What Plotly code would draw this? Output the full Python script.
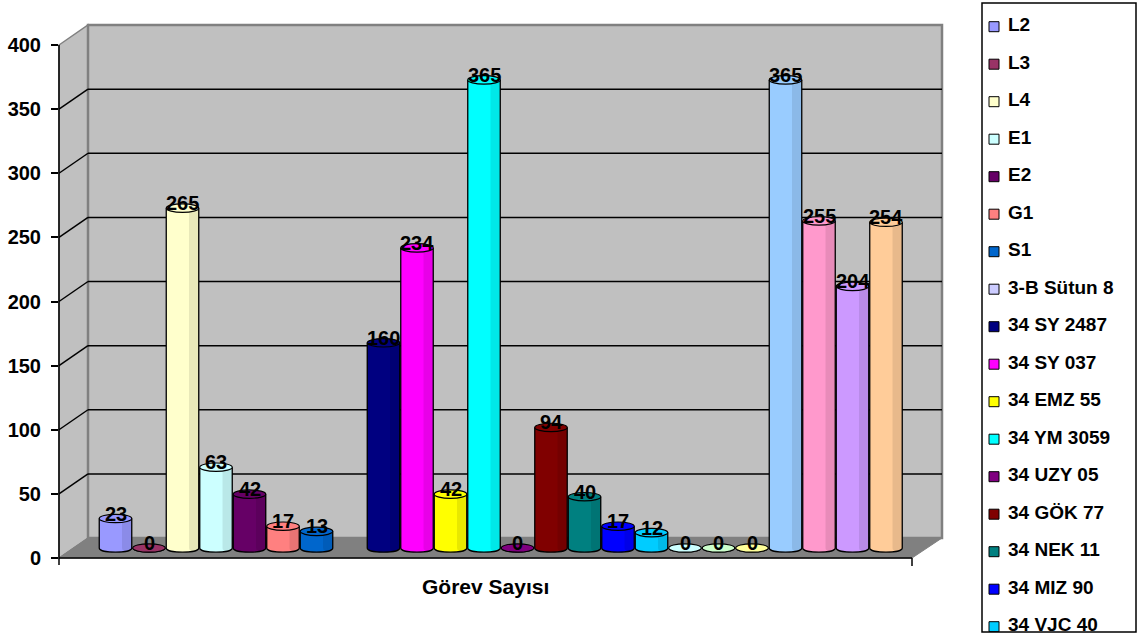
import plotly.graph_objects as go

# ---- data -------------------------------------------------------------
category = "Görev Sayısı"
series_names = [
    "L2", "L3", "L4", "E1", "E2", "G1", "S1", "3-B Sütun 8",
    "34 SY 2487", "34 SY 037", "34 EMZ 55", "34 YM 3059", "34 UZY 05",
    "34 GÖK 77", "34 NEK 11", "34 MIZ 90", "34 VJC 40",
]
values = [23, 0, 265, 63, 42, 17, 13, None, 160, 234, 42, 365, 0,
          94, 40, 17, 12, 0, 0, 0, 365, 255, 204, 254]
colors = [
    "#9999FF", "#993366", "#FFFFCC", "#CCFFFF", "#660066", "#FF8080",
    "#0066CC", "#CCCCFF", "#000080", "#FF00FF", "#FFFF00", "#00FFFF",
    "#800080", "#800000", "#008080", "#0000FF", "#00CCFF", "#CCFFFF",
    "#CCFFCC", "#FFFF99", "#99CCFF", "#FF99CC", "#CC99FF", "#FFCC99",
]
y_ticks = [0, 50, 100, 150, 200, 250, 300, 350, 400]

# ---- geometry (pixels) -----------------------------------------------
FIG_W, FIG_H = 1138, 634
PL, PR, PT, PB = 59, 942, 20, 570          # chart plotting area
FRONT_X, BACK_X = 59, 88                    # left edge of front / back planes
FRONT_ZERO, DEPTH_DY = 558, -20             # value 0 on front plane, depth shift
FLOOR_RIGHT_FRONT = 912
K = 513 / 400                               # pixels per unit value
MID_ZERO = FRONT_ZERO + DEPTH_DY / 2        # bars stand in the middle depth
CENTER0, PITCH = 115.5, 33.5                # bar centre spacing
BAR_W = 0.97
RY = 4.2 / K                                # half-height of cylinder ellipse

# legend panel
LEG_L, LEG_R, LEG_T, LEG_B = 982, 1136, 3, 632
LEG_Y0, LEG_STEP = 26.7, 37.5

WALL = "#C0C0C0"
FLOOR = "#808080"
EDGE = "#808080"
FONT = "Liberation Sans, Arial, sans-serif"


def ppx(x):
    return x / FIG_W


def ppy(y):
    return (FIG_H - y) / FIG_H


def front_y(v):
    return FRONT_ZERO - v * K


def back_y(v):
    return FRONT_ZERO + DEPTH_DY - v * K


shapes = []


def poly(points, fill, line_color, width=1, layer="below"):
    path = "M " + " L ".join(f"{ppx(x):.5f},{ppy(y):.5f}" for x, y in points) + " Z"
    return dict(type="path", xref="paper", yref="paper", path=path,
                fillcolor=fill, line=dict(color=line_color, width=width), layer=layer)


def seg(x0, y0, x1, y1, color="black", width=1.5, layer="below"):
    return dict(type="line", xref="paper", yref="paper",
                x0=ppx(x0), y0=ppy(y0), x1=ppx(x1), y1=ppy(y1),
                line=dict(color=color, width=width), layer=layer)


# side wall, back wall and floor
top = y_ticks[-1]
shapes.append(poly([(FRONT_X, front_y(top)), (BACK_X, back_y(top)),
                    (BACK_X, back_y(0)), (FRONT_X, front_y(0))], WALL, EDGE, 1.5))
shapes.append(poly([(BACK_X, back_y(top)), (PR, back_y(top)),
                    (PR, back_y(0)), (BACK_X, back_y(0))], WALL, EDGE, 2.5))
shapes.append(poly([(FRONT_X, front_y(0)), (BACK_X, back_y(0)), (PR, back_y(0)),
                    (FLOOR_RIGHT_FRONT, front_y(0))], FLOOR, EDGE, 1))

# grid lines on the walls
for v in y_ticks[1:-1]:
    shapes.append(seg(FRONT_X, front_y(v), BACK_X, back_y(v), "black", 1.5))
    shapes.append(seg(BACK_X, back_y(v), PR, back_y(v), "black", 1.5))

# front axis line, floor front edge and its end tick
shapes.append(seg(FRONT_X, front_y(top), FRONT_X, front_y(0) + 7, "black", 1.5, "above"))
shapes.append(seg(FRONT_X, front_y(0), FLOOR_RIGHT_FRONT, front_y(0), "black", 1.5, "above"))
shapes.append(seg(FLOOR_RIGHT_FRONT, front_y(0), FLOOR_RIGHT_FRONT, front_y(0) + 8,
                  "black", 1.5, "above"))

# cylinders: bottom cap, side shading, outline and top ellipse
positions = list(range(len(values)))
annotations = []
for i, v in enumerate(values):
    if v is None:
        continue
    c = colors[i]
    xl, xr = i - BAR_W / 2, i + BAR_W / 2
    d = 4 / 3 * RY
    bottom = f"M {xl},0 C {xl},{-d} {xr},{-d} {xr},0"
    shapes.append(dict(type="path", xref="x", yref="y", path=bottom + " Z",
                       fillcolor=c, line=dict(width=0), layer="above"))
    if v > 0:
        xs = xr - 0.3 * BAR_W
        shapes.append(dict(type="path", xref="x", yref="y",
                           path=f"M {xs},{v} L {xs},0 C {xs},{-d*0.9} {xr},{-d*0.5} {xr},0 L {xr},{v} Z",
                           fillcolor="rgba(0,0,0,0.09)", line=dict(width=0), layer="above"))
        shapes.append(dict(type="path", xref="x", yref="y",
                           path=f"M {xl},{v} L {xl},0 C {xl},{-d} {xr},{-d} {xr},0 L {xr},{v}",
                           line=dict(color="black", width=1.3), layer="above"))
    else:
        shapes.append(dict(type="path", xref="x", yref="y", path=bottom,
                           line=dict(color="black", width=1), layer="above"))
    shapes.append(dict(type="circle", xref="x", yref="y",
                       x0=xl, x1=xr, y0=v - RY, y1=v + RY,
                       fillcolor=c, line=dict(color="black", width=1.2), layer="above"))
    annotations.append(dict(x=i, y=v, xref="x", yref="y", text=str(v),
                            showarrow=False, yshift=5,
                            font=dict(family=FONT, size=20, color="black", weight="bold")))

# category title under the floor
annotations.append(dict(x=ppx(485), y=ppy(586), xref="paper", yref="paper",
                        xanchor="center", yanchor="middle",
                        text=category, showarrow=False,
                        font=dict(family=FONT, size=21, color="black", weight="bold")))

# legend frame
shapes.append(dict(type="rect", xref="paper", yref="paper",
                   x0=ppx(LEG_L), x1=ppx(LEG_R), y0=ppy(LEG_B), y1=ppy(LEG_T),
                   fillcolor="rgba(0,0,0,0)", line=dict(color="black", width=1.5),
                   layer="above"))

fig = go.Figure()
fig.add_trace(go.Bar(
    x=positions, y=values, width=BAR_W,
    marker=dict(color=colors, line=dict(width=0)),
    hovertext=[(series_names[i] if i < len(series_names) else "") for i in positions],
    showlegend=False,
))
# invisible trace that carries the front value axis
fig.add_trace(go.Scatter(x=[0], y=[0], yaxis="y2", mode="markers",
                         marker=dict(opacity=0), hoverinfo="skip", showlegend=False))

# legend entries, drawn in their own panel so the last row is cut by the frame
leg_rows = [LEG_Y0 + LEG_STEP * k for k in range(len(series_names))]
fig.add_trace(go.Scatter(
    x=[994] * len(series_names), y=leg_rows, xaxis="x3", yaxis="y3",
    mode="markers", cliponaxis=True,
    marker=dict(symbol="square", size=10, color=colors[:len(series_names)],
                line=dict(color="black", width=1)),
    hoverinfo="skip", showlegend=False,
))
fig.add_trace(go.Scatter(
    x=[1008] * len(series_names), y=leg_rows, xaxis="x3", yaxis="y3",
    mode="text", text=series_names, textposition="middle right", cliponaxis=True,
    textfont=dict(family=FONT, size=19, color="black", weight="bold"),
    hoverinfo="skip", showlegend=False,
))

fig.update_layout(
    width=FIG_W, height=FIG_H,
    margin=dict(l=0, r=0, t=0, b=0, pad=0),
    paper_bgcolor="white", plot_bgcolor="rgba(0,0,0,0)",
    xaxis=dict(domain=[ppx(PL), ppx(PR)],
               range=[-(CENTER0 - PL) / PITCH, (PR - CENTER0) / PITCH],
               visible=False, fixedrange=True),
    yaxis=dict(domain=[ppy(PB), ppy(PT)],
               range=[-(PB - MID_ZERO) / K, (MID_ZERO - PT) / K],
               visible=False, fixedrange=True),
    yaxis2=dict(range=[-(PB - FRONT_ZERO) / K, (FRONT_ZERO - PT) / K],
                overlaying="y", anchor="x", side="left",
                tickvals=y_ticks, ticks="outside", ticklen=7, tickwidth=1.5,
                tickcolor="black", showgrid=False, zeroline=False, showline=False,
                ticklabelstandoff=6, fixedrange=True,
                tickfont=dict(family=FONT, size=20, color="black", weight="bold")),
    xaxis3=dict(domain=[ppx(LEG_L), ppx(LEG_R)], range=[LEG_L, LEG_R],
                anchor="y3", visible=False, fixedrange=True),
    yaxis3=dict(domain=[ppy(LEG_B), ppy(LEG_T)], range=[LEG_B, LEG_T],
                anchor="x3", visible=False, fixedrange=True),
    shapes=shapes,
    annotations=annotations,
    bargap=0,
    showlegend=False,
)

fig.write_html("out.html")
